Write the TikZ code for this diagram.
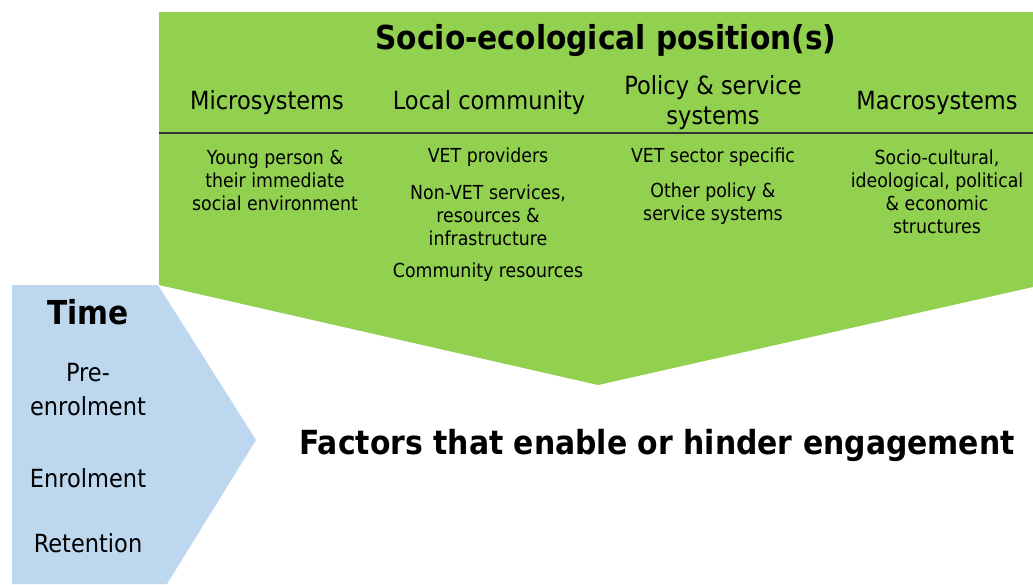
\documentclass[tikz,border=0pt]{standalone}
\usepackage{fontspec}
\setmainfont{DejaVu Sans}[FakeStretch=0.9]
\definecolor{sgreen}{HTML}{92D050}
\definecolor{sblue}{HTML}{BDD7EE}
\tikzset{
  hdr/.style={font=\fontsize{25}{30}\selectfont, align=center, inner sep=0pt},
  body/.style={font=\fontsize{19.3}{23}\selectfont, align=center, inner sep=0pt},
  big/.style={font=\fontsize{33}{38}\selectfont\bfseries, align=center, inner sep=0pt},
  tim/.style={font=\fontsize{25}{34}\selectfont, align=center, inner sep=0pt}
}
\begin{document}
\begin{tikzpicture}[x=1pt,y=-1pt]
\useasboundingbox (0,0) rectangle (1033,584);
% shapes
\fill[sblue] (12,285) -- (158,285) -- (256,440) -- (167,584) -- (12,584) -- cycle;
\fill[sgreen] (159,12) -- (1033,12) -- (1033,287) -- (598,385) -- (159,285) -- cycle;
\coordinate (lineL) at (159,133);
\coordinate (lineR) at (1033,133);
\draw[line width=1.3pt, black!80] (lineL) -- (lineR);
% title
\node[big] (title) at (606,41) {Socio-ecological position(s)};
% headers
\node[hdr] (micro) at (267,103) {Microsystems};
\node[hdr] (local) at (489,103) {Local community};
\node[hdr] (policy) at (713,103) {Policy \& service\\systems};
\node[hdr] (macro) at (937,103) {Macrosystems};
% body
\node[body] (young) at (275,180) {Young person \&\\their immediate\\social environment};
\node[body] (vetp) at (488,157) {VET providers};
\node[body] (nonvet) at (488,215) {Non-VET services,\\resources \&\\infrastructure};
\node[body] (commres) at (488,272) {Community resources};
\node[body] (vets) at (713,157) {VET sector specific};
\node[body] (otherp) at (713,203.5) {Other policy \&\\service systems};
\node[body] (socio) at (937,191.5) {Socio-cultural,\\ideological, political\\\& economic\\structures};
% time
\node[big] (time) at (88,312) {Time};
\node[tim] (pre) at (88,390) {Pre-\\enrolment};
\node[tim] (enrol) at (88,478) {Enrolment};
\node[tim] (ret) at (88,543) {Retention};
% factors
\node[big, font=\fontsize{33.2}{38}\selectfont\bfseries] (factors) at (657,445) {Factors that enable or hinder engagement};
\end{tikzpicture}
\end{document}
